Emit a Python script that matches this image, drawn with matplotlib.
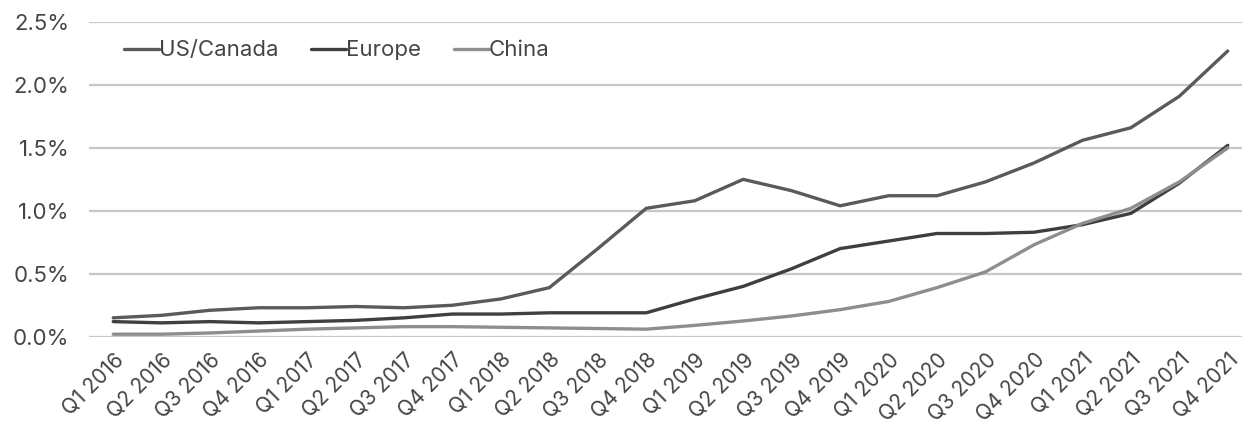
import matplotlib.pyplot as plt
from matplotlib.ticker import FuncFormatter

# quarterly share, in percent
quarters = [f"Q{q} {y}" for y in range(2016, 2022) for q in range(1, 5)]

us_canada = [0.15, 0.17, 0.21, 0.23, 0.23, 0.24, 0.23, 0.25, 0.30, 0.39, 0.70, 1.02,
             1.08, 1.25, 1.16, 1.04, 1.12, 1.12, 1.23, 1.38, 1.56, 1.66, 1.91, 2.27]
europe = [0.12, 0.11, 0.12, 0.11, 0.12, 0.13, 0.15, 0.18, 0.18, 0.19, 0.19, 0.19,
          0.30, 0.40, 0.54, 0.70, 0.76, 0.82, 0.82, 0.83, 0.89, 0.98, 1.22, 1.52]
china = [0.02, 0.02, 0.03, 0.045, 0.06, 0.07, 0.08, 0.08, 0.075, 0.07, 0.065, 0.06,
         0.09, 0.125, 0.165, 0.215, 0.28, 0.39, 0.515, 0.73, 0.90, 1.02, 1.23, 1.50]

series = [
    ("US/Canada", us_canada, "#5a5a5a"),
    ("Europe", europe, "#3f3f3f"),
    ("China", china, "#8e8e8e"),
]

plt.rcParams['font.family'] = ['Inter', 'DejaVu Sans']

fig = plt.figure(figsize=(12.42, 4.21), dpi=100)
ax = fig.add_axes([89 / 1242, 0.2002, 1163 / 1242, 0.7475])

x = range(len(quarters))
for name, vals, color in series:
    ax.plot(x, vals, color=color, lw=2.4, label=name, solid_capstyle='round')

ax.set_xlim(-0.5, len(quarters) - 0.5)
ax.set_ylim(0, 2.5)
ax.set_yticks([0, 0.5, 1.0, 1.5, 2.0, 2.5])
ax.yaxis.set_major_formatter(FuncFormatter(lambda v, _: f"{v:.1f}%"))
ax.grid(axis='y', color='#c8c8c8', lw=1.6)
ax.set_axisbelow(True)
for s in ax.spines.values():
    s.set_visible(False)

ax.set_xticks(list(x))
ax.set_xticklabels(quarters, rotation=45, ha='right', rotation_mode='anchor')
ax.tick_params(axis='both', length=0, labelsize=15, colors='#454545')
ax.tick_params(axis='y', pad=14, labelsize=16)
ax.tick_params(axis='x', pad=9)

leg = ax.legend(loc='upper left', bbox_to_anchor=(0.013, 1.005), ncol=3, frameon=False,
                fontsize=16, handlelength=1.55, handletextpad=0.0, columnspacing=1.5,
                labelcolor='#454545')

fig.savefig('out.png', dpi=100)
